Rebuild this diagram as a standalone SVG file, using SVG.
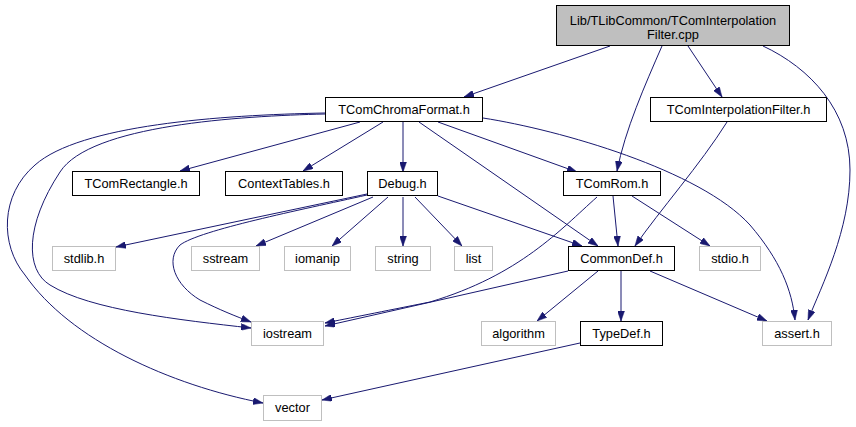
<svg xmlns="http://www.w3.org/2000/svg" width="856" height="427" viewBox="0 0 856 427">
<style>
text{font-family:"Liberation Sans",Arial,sans-serif;font-size:12.8px;fill:#000;text-anchor:middle}
.d rect{fill:#fff;stroke:#000;stroke-width:1}
.u rect{fill:#fff;stroke:#bfbfbf;stroke-width:1}
.r rect{fill:#bfbfbf;stroke:#000;stroke-width:1}
#edges path{fill:none;stroke:#191970;stroke-width:1;marker-end:url(#ah)}
</style>
<defs>
<marker id="ah" markerUnits="userSpaceOnUse" viewBox="0 0 10 7" refX="10" refY="3.5" markerWidth="10" markerHeight="7" orient="auto">
<path d="M0,0 L10,3.5 L0,7 Z" fill="#191970" stroke="#191970" stroke-width="0.5"/>
</marker>
</defs>
<rect width="856" height="427" fill="#fff"/>
<g id="edges">
<path d="M610,46 L464,97"/>
<path d="M662,46 C645,85 625,130 617,171"/>
<path d="M688,46 L722,97"/>
<path d="M763,46 C810,68 850,110 850,170 C850,230 822,285 808,320"/>
<path d="M727,122 C700,165 660,210 635,246"/>
<path d="M360,122 L180,171"/>
<path d="M383,122 L303,171"/>
<path d="M403,122 L403,172"/>
<path d="M438,122 L577,172"/>
<path d="M419,122 L598,246"/>
<path d="M483,118 C560,130 700,170 750,225 C780,260 792,290 795,320"/>
<path d="M325,114 C240,116 90,125 60,172 C25,225 25,270 50,285 C90,310 180,320 251,328"/>
<path d="M325,113 C220,115 80,125 35,165 C0,195 0,245 25,275 C70,340 170,385 263,403"/>
<path d="M367,194 L116,247"/>
<path d="M373,197 L256,246"/>
<path d="M388,197 L332,246"/>
<path d="M403,197 L403,246"/>
<path d="M415,197 L462,246"/>
<path d="M438,196 L582,246"/>
<path d="M367,195 C300,210 200,230 180,245 C165,260 175,285 200,300 C220,310 235,316 251,322"/>
<path d="M613,196 L618,246"/>
<path d="M632,196 L710,246"/>
<path d="M597,197 C560,230 520,275 430,302 C380,312 350,318 325,323"/>
<path d="M568,271 L325,326"/>
<path d="M598,271 L537,321"/>
<path d="M621,271 L621,321"/>
<path d="M650,271 L767,321"/>
<path d="M580,343 L322,400"/>
</g>
<g id="n_root" class="r"><rect x="556.5" y="5.5" width="233" height="40"/><text x="673" y="25">Lib/TLibCommon/TComInterpolation</text><text x="673" y="39">Filter.cpp</text></g>
<g id="n_chroma" class="d"><rect x="325.5" y="97.5" width="157" height="24"/><text x="404" y="114">TComChromaFormat.h</text></g>
<g id="n_interp" class="d"><rect x="650.5" y="97.5" width="176" height="24"/><text x="738.5" y="114">TComInterpolationFilter.h</text></g>
<g id="n_rect" class="d"><rect x="72.5" y="171.5" width="127" height="24"/><text x="136" y="188">TComRectangle.h</text></g>
<g id="n_ctx" class="d"><rect x="225.5" y="171.5" width="117" height="24"/><text x="284" y="188">ContextTables.h</text></g>
<g id="n_debug" class="d"><rect x="367.5" y="171.5" width="70" height="24"/><text x="402.5" y="188">Debug.h</text></g>
<g id="n_rom" class="d"><rect x="563.5" y="171.5" width="97" height="24"/><text x="612" y="188">TComRom.h</text></g>
<g id="n_stdlib" class="u"><rect x="52.5" y="246.5" width="63" height="24"/><text x="84" y="263">stdlib.h</text></g>
<g id="n_sstream" class="u"><rect x="191.5" y="246.5" width="68" height="24"/><text x="225.5" y="263">sstream</text></g>
<g id="n_iomanip" class="u"><rect x="284.5" y="246.5" width="66" height="24"/><text x="317.5" y="263">iomanip</text></g>
<g id="n_string" class="u"><rect x="375.5" y="246.5" width="55" height="24"/><text x="403" y="263">string</text></g>
<g id="n_list" class="u"><rect x="454.5" y="246.5" width="38" height="24"/><text x="473.5" y="263">list</text></g>
<g id="n_common" class="d"><rect x="568.5" y="246.5" width="106" height="24"/><text x="621.5" y="263">CommonDef.h</text></g>
<g id="n_stdio" class="u"><rect x="699.5" y="246.5" width="61" height="24"/><text x="730" y="263">stdio.h</text></g>
<g id="n_iostream" class="u"><rect x="251.5" y="321.5" width="72" height="24"/><text x="287.5" y="338">iostream</text></g>
<g id="n_algorithm" class="u"><rect x="481.5" y="321.5" width="74" height="24"/><text x="518.5" y="338">algorithm</text></g>
<g id="n_typedef" class="d"><rect x="580.5" y="321.5" width="82" height="24"/><text x="621.5" y="338">TypeDef.h</text></g>
<g id="n_assert" class="u"><rect x="762.5" y="321.5" width="69" height="24"/><text x="797" y="338">assert.h</text></g>
<g id="n_vector" class="u"><rect x="263.5" y="395.5" width="58" height="25"/><text x="292.5" y="412">vector</text></g>
</svg>
